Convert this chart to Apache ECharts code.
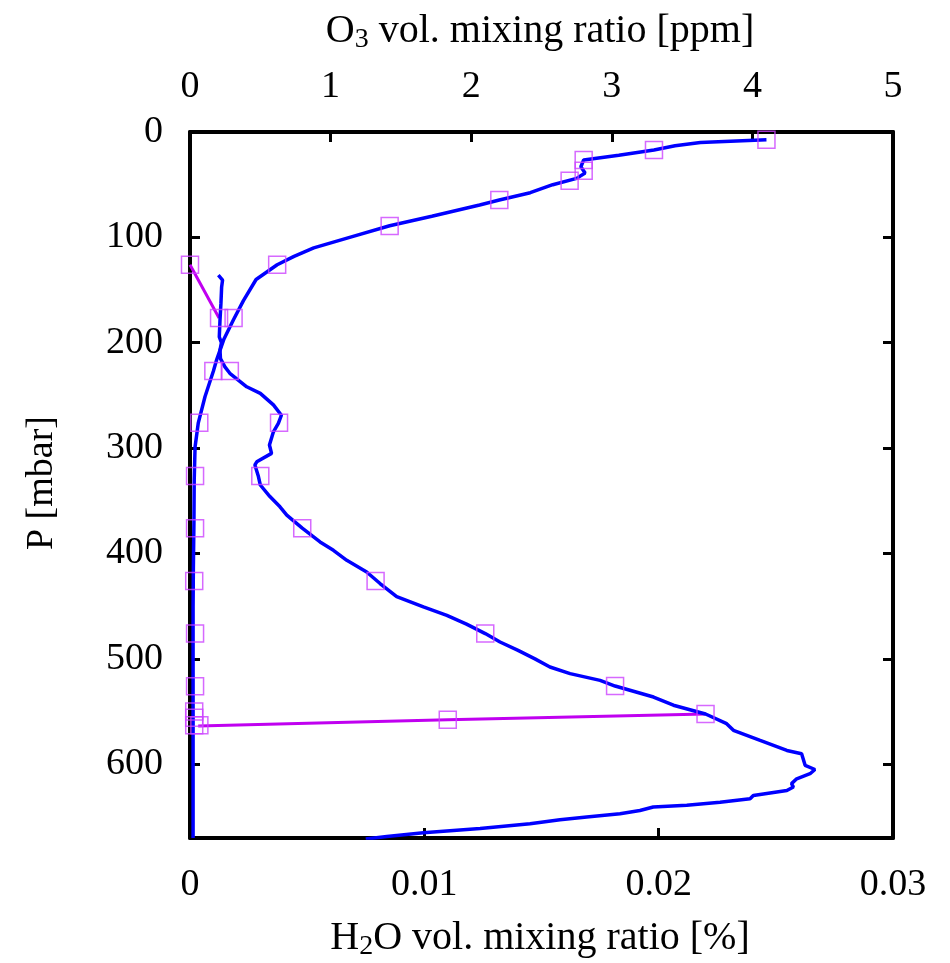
<!DOCTYPE html>
<html>
<head>
<meta charset="utf-8">
<script src="https://cdn.jsdelivr.net/npm/echarts@6/dist/echarts.min.js"></script>
<style>
  html, body { margin: 0; padding: 0; background: #fff; }
  #main { width: 950px; height: 963px; }
</style>
</head>
<body>
<div id="main"></div>
<script>
// measured O3 profile (top axis, ppm) vs pressure [mbar]
var o3P = [7.3, 10, 13, 17, 22, 26.6, 33, 39, 44, 50, 57.6, 64.6, 69.3, 80, 89, 99, 110, 118, 126, 140, 160, 178, 197, 216, 227, 251, 276, 299, 330, 370, 413, 450, 500, 560, 620, 670];
var o3V = [4.10, 3.63, 3.45, 3.30, 3.05, 2.80, 2.78, 2.81, 2.75, 2.58, 2.42, 2.20, 2.06, 1.72, 1.42, 1.16, 0.88, 0.74, 0.62, 0.47, 0.38, 0.31, 0.24, 0.19, 0.166, 0.107, 0.059, 0.036, 0.030, 0.028, 0.024, 0.022, 0.022, 0.022, 0.022, 0.022];

// measured H2O profile (bottom axis, %) vs pressure
var h2oP = [135.8, 140.5, 147, 162.7, 178.5, 194.4, 200, 207, 215, 222.9, 229, 241.8, 248, 259, 268.8, 276.6, 284.5, 297, 305, 313, 316, 327, 335, 346, 355.7, 363.6, 376, 389, 397, 406.5, 417.6, 428.5, 441, 450.7, 458.7, 467, 476, 484, 492, 500, 507.7, 514, 520.4, 525.8, 536.2, 544, 552.3, 561.5, 567.8, 577.4, 586.9, 590, 601, 605, 609, 613.8, 618.4, 621.6, 624.9, 629.6, 632.8, 636, 639, 640.6, 643.9, 647, 650, 652.6, 656.5, 661, 665, 668.6, 671];
var h2oV = [0.00121, 0.00139, 0.00135, 0.00132, 0.00128, 0.00125, 0.00134, 0.00128, 0.00130, 0.00149, 0.0017, 0.00242, 0.0030, 0.00356, 0.0039, 0.00377, 0.00356, 0.00339, 0.00348, 0.00285, 0.00277, 0.00292, 0.0030, 0.00341, 0.00384, 0.00413, 0.00479, 0.00555, 0.00612, 0.00669, 0.00754, 0.00811, 0.00882, 0.00996, 0.01096, 0.0118, 0.0126, 0.01323, 0.0140, 0.01472, 0.01536, 0.01622, 0.0175, 0.01814, 0.01978, 0.02063, 0.0220, 0.0229, 0.02319, 0.02433, 0.02547, 0.0261, 0.02625, 0.02667, 0.02646, 0.02589, 0.02567, 0.02575, 0.02547, 0.02404, 0.0239, 0.02262, 0.0212, 0.01977, 0.0192, 0.01835, 0.01693, 0.01579, 0.01451, 0.01238, 0.00996, 0.0084, 0.0075];

// model layer values (squares)
var o3LayerP = [7.3, 17.1, 26.6, 36.7, 46.2, 64.6, 89.3, 126, 176.6, 226.7, 276, 326.4, 376, 426, 476, 526, 550, 556, 563];
var o3LayerV = [4.10, 3.30, 2.80, 2.80, 2.70, 2.20, 1.42, 0.62, 0.31, 0.166, 0.066, 0.036, 0.036, 0.03, 0.036, 0.036, 0.03, 0.03, 0.03];
var h2oLayerP = [126, 176.6, 226.7, 276, 326.4, 376, 426, 476, 525.8, 552.3, 557.7, 563];
var h2oLayerV = [0, 0.00124, 0.0017, 0.0038, 0.0030, 0.00479, 0.00792, 0.0126, 0.01814, 0.0220, 0.0110, 0.0004];

// visible pieces of the model H2O line (null = gap)
var h2oLineP = [126, 176.6, null, 552.3, 557.7, 563.7];
var h2oLineV = [0, 0.00124, null, 0.0220, 0.0110, 0.00035];

function pairs(vals, pres) {
  return vals.map(function (v, i) {
    return v === null ? '-' : [v, pres[i]];
  });
}

var FONT = 'Liberation Serif';
var chart = echarts.init(document.getElementById('main'));

function frameLine() {
  return { show: true, onZero: false, lineStyle: { color: '#000', width: 4 } };
}
function tick() {
  return { show: true, inside: true, length: 10, lineStyle: { color: '#000', width: 3 } };
}
function lbl(extra) {
  return Object.assign({ color: '#000', fontFamily: FONT, fontSize: 38 }, extra);
}

var option = {
  backgroundColor: '#fff',
  animation: false,
  grid: { left: 190, right: 57, top: 132, bottom: 125 },
  xAxis: [
    {
      type: 'value', position: 'bottom', min: 0, max: 0.03, interval: 0.01,
      axisLine: frameLine(), axisTick: tick(), splitLine: { show: false },
      axisLabel: lbl({ margin: 28 })
    },
    {
      type: 'value', position: 'top', min: 0, max: 5, interval: 1,
      axisLine: frameLine(), axisTick: tick(), splitLine: { show: false },
      axisLabel: lbl({ margin: 26 })
    }
  ],
  yAxis: [
    {
      type: 'value', position: 'left', inverse: true, min: 0, max: 670, interval: 100,
      axisLine: frameLine(), axisTick: tick(), splitLine: { show: false },
      axisLabel: lbl({ margin: 27, showMaxLabel: false })
    },
    {
      type: 'value', position: 'right', inverse: true, min: 0, max: 670, interval: 100,
      axisLine: frameLine(), axisTick: tick(), splitLine: { show: false },
      axisLabel: { show: false }
    }
  ],
  graphic: [
    {
      type: 'text', x: 540, y: 31,
      style: {
        text: 'O{s|3} vol. mixing ratio [ppm]', align: 'center', verticalAlign: 'middle',
        fill: '#000', fontFamily: FONT, fontSize: 40,
        rich: { s: { fontFamily: FONT, fontSize: 28, padding: [17, 0, 0, 0] } }
      }
    },
    {
      type: 'text', x: 540, y: 938,
      style: {
        text: 'H{s|2}O vol. mixing ratio [%]', align: 'center', verticalAlign: 'middle',
        fill: '#000', fontFamily: FONT, fontSize: 40,
        rich: { s: { fontFamily: FONT, fontSize: 28, padding: [17, 0, 0, 0] } }
      }
    },
    {
      type: 'text', x: 42, y: 483, rotation: Math.PI / 2,
      style: {
        text: 'P [mbar]', align: 'center', verticalAlign: 'middle',
        fill: '#000', fontFamily: FONT, fontSize: 38
      }
    }
  ],
  series: [
    {
      name: 'H2O model line', type: 'line', xAxisIndex: 0, yAxisIndex: 0,
      data: pairs(h2oLineV, h2oLineP), showSymbol: false, connectNulls: false,
      lineStyle: { color: '#c000f0', width: 3 }, z: 2
    },
    {
      name: 'O3', type: 'line', xAxisIndex: 1, yAxisIndex: 0,
      data: pairs(o3V, o3P), showSymbol: false,
      lineStyle: { color: '#0000ff', width: 3.5 }, z: 3
    },
    {
      name: 'H2O', type: 'line', xAxisIndex: 0, yAxisIndex: 0,
      data: pairs(h2oV, h2oP), showSymbol: false,
      lineStyle: { color: '#0000ff', width: 3.5 }, z: 3
    },
    {
      name: 'O3 layers', type: 'scatter', xAxisIndex: 1, yAxisIndex: 0,
      data: pairs(o3LayerV, o3LayerP), symbol: 'rect', symbolSize: 17,
      itemStyle: { color: 'rgba(0,0,0,0)', borderColor: '#cc44ff', borderWidth: 1.5 }, z: 4
    },
    {
      name: 'H2O layers', type: 'scatter', xAxisIndex: 0, yAxisIndex: 0,
      data: pairs(h2oLayerV, h2oLayerP), symbol: 'rect', symbolSize: 17,
      itemStyle: { color: 'rgba(0,0,0,0)', borderColor: '#cc44ff', borderWidth: 1.5 }, z: 4
    }
  ]
};

chart.setOption(option);
</script>
</body>
</html>
